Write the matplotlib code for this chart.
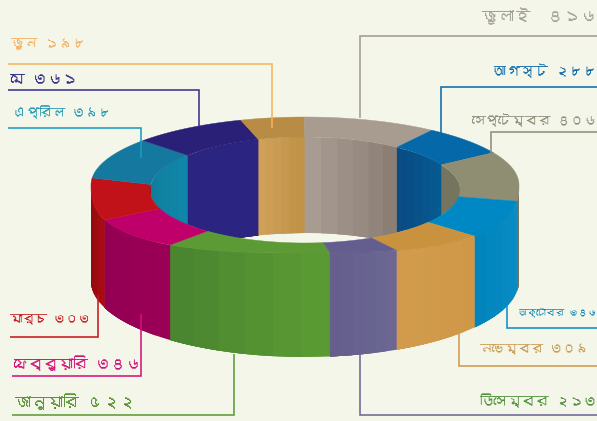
import numpy as np
import matplotlib
matplotlib.use("Agg")
import matplotlib.pyplot as plt
from matplotlib import font_manager as fm
from matplotlib.colors import to_rgb
from matplotlib.ft2font import FT2Font
from matplotlib.patches import Polygon, Ellipse

# ---- data ----
months = ["জানুয়ারি", "ফেব্রুয়ারি", "মার্চ", "এপ্রিল", "মে", "জুন", "জুলাই",
          "আগস্ট", "সেপ্টেম্বর", "অক্টোবর", "নভেম্বর", "ডিসেম্বর"]
values = [522, 346, 303, 398, 361, 198, 416, 288, 406, 346, 309, 213]

top_colors = ["#5C9A35", "#C0006A", "#C01218", "#15799F", "#2A2078", "#B98C45",
              "#A89B90", "#0568A8", "#8F8E72", "#0088C4", "#C9923F", "#635D90"]
# wall shade at the start and at the end of each slice
wall_start = ["#5A9A33", "#9A0056", "#A80C12", "#0F7D9C", "#2B2480", "#D0A058",
              "#A89C92", "#0A4C84", "#75745E", "#0A8CC4", "#CF9848", "#6B6792"]
wall_end = ["#47812E", "#920052", "#7E0A0E", "#1088AA", "#2B2480", "#BD9045",
            "#85796F", "#045E94", "#75745E", "#0084BC", "#D19C4C", "#625D8C"]
text_colors = ["#5E9438", "#D1107A", "#C4161C", "#2299B5", "#2E2A85", "#F2B264",
               "#A8A296", "#0A68A8", "#8E8D7A", "#0A86B8", "#C99A50", "#4F8F3B"]
line_colors = ["#5D9A38", "#D5107A", "#C8161C", "#1A9CC0", "#3A2F8F", "#F5B55F",
               "#A49C90", "#0A6BAE", "#8F8E78", "#0A8FC4", "#D09A4F", "#6B6695"]

# leader paths: (text-side x, y, elbow x, chart-side y)
leaders = [(12, 415, 234, 354), (12, 376, 141, 314), (10, 337, 98, 295),
           (8, 127.5, 141, 158), (8, 89.5, 199, 127), (8, 63.5, 272, 128),
           (597, 35.5, 360, 118), (597, 87, 441, 135), (597, 132, 491, 155),
           (597, 328, 507, 305), (597, 365.5, 459, 333), (597, 415, 360, 355)]
# label anchor: (x, y-centre, ha, width in pixels)
label_pos = [(15, 402, "left", 120), (13, 363, "left", 127), (10, 320, "left", 80),
             (13, 112, "left", 98), (10, 79, "left", 67), (10, 44, "left", 76),
             (597, 16, "right", 115), (597, 71, "right", 105), (597, 120, "right", 124),
             (597, 312, "right", 79), (588, 349, "right", 109), (597, 401, "right", 117)]


# ---- fonts: use a Bengali-capable family if one is installed ----
def bengali_family():
    for f in fm.fontManager.ttflist:
        try:
            if 0x0995 in FT2Font(f.fname).get_charmap():
                return f.name
        except Exception:
            pass
    return None


fam = bengali_family()
plt.rcParams["font.family"] = ([fam] if fam else []) + ["Noto Sans", "DejaVu Sans"]

BG = "#F3F6E8"
W, H = 597, 421
fig = plt.figure(figsize=(W / 100, H / 100), dpi=100, facecolor=BG)
ax = fig.add_axes([0, 0, 1, 1])
ax.set_xlim(0, W)
ax.set_ylim(H, 0)
ax.axis("off")

# ---- ring geometry ----
CX = 305
RX_OUT, RX_IN = 214, 155
CY_TOP, RY_TOP = 185, 68
CY_BOT, RY_BOT = 281, 76
CY_IN, RY_IN = 190, 53
CY_IN_BOT = 286


def outer_top(t):
    """Outer rim of the top face; the front half is squarer than an ellipse."""
    c, s = np.cos(t), np.sin(t)
    y = np.where(s >= 0,
                 CY_TOP + RY_TOP * np.clip(1 - np.abs(c) ** 2.7, 0, 1) ** (1 / 2.7),
                 CY_TOP + RY_TOP * s)
    return CX + RX_OUT * c, y


def outer_bot(t):
    return CX + RX_OUT * np.cos(t), CY_BOT + RY_BOT * np.sin(t)


def inner_top(t):
    return CX + RX_IN * np.cos(t), CY_IN + RY_IN * np.sin(t)


def inner_bot(t):
    return CX + RX_IN * np.cos(t), CY_IN_BOT + RY_IN * np.sin(t)


def band(f_a, f_b, t0, t1, color, z, clip=None):
    t = np.linspace(t0, t1, 50)
    xa, ya = f_a(t)
    xb, yb = f_b(t[::-1])
    p = Polygon(np.c_[np.r_[xa, xb], np.r_[ya, yb]], closed=True, fc=color,
                ec="none", zorder=z)
    ax.add_patch(p)
    if clip is not None:
        p.set_clip_path(clip)


def mix(a, b, f):
    a, b = np.array(to_rgb(a)), np.array(to_rgb(b))
    return a + (b - a) * f


total = sum(values)
start = np.deg2rad(83.3)
edges = start + np.r_[0, np.cumsum([v / total * 2 * np.pi for v in values])]

hole = Ellipse((CX, CY_IN), 2 * RX_IN, 2 * RY_IN, transform=ax.transData)
near = [(start, np.pi), (2 * np.pi, start + 2 * np.pi)]
far = [(np.pi, 2 * np.pi)]
STRIPS = 6


def walls(i, ranges, fa, fb, z, clip=None):
    t0, t1 = edges[i], edges[i + 1]
    for lo, hi in ranges:
        a, b = max(t0, lo), min(t1, hi)
        if b <= a:
            continue
        # each stripe runs to the slice end, so the next one paints over it without seams
        for s in np.linspace(a, b, STRIPS, endpoint=False):
            f = ((s - t0) / (t1 - t0))
            band(fa, fb, s, b, mix(wall_start[i], wall_end[i], f), z, clip)


for i in range(len(values)):
    walls(i, far, inner_top, inner_bot, 2 + i * 0.01, hole)
    walls(i, near, outer_top, outer_bot, 4 + i * 0.01)
    t = np.linspace(edges[i], edges[i + 1], 60)
    xo, yo = outer_top(t)
    xi, yi = inner_top(t[::-1])
    ax.add_patch(Polygon(np.c_[np.r_[xo, xi], np.r_[yo, yi]], closed=True,
                         fc=top_colors[i], ec=top_colors[i], lw=0.3, zorder=5))

# ---- leaders and labels ----
to_bn = str.maketrans("0123456789", "০১২৩৪৫৬৭৮৯")
renderer = fig.canvas.get_renderer()
for i, (m, v) in enumerate(zip(months, values)):
    x0, y0, xe, y1 = leaders[i]
    ax.plot([x0, xe, xe], [y0, y0, y1], color=line_colors[i], lw=1.2,
            solid_joinstyle="miter", solid_capstyle="butt", zorder=8, alpha=0.95)
    lx, ly, ha, width = label_pos[i]
    gap = "  " if i == 6 else " "
    txt = ax.text(lx, ly, m + gap + str(v).translate(to_bn), color=text_colors[i],
                  fontsize=12, ha=ha, va="center", zorder=9)
    measured = txt.get_window_extent(renderer).width
    txt.set_fontsize(12 * width / measured)

fig.savefig("out.png", dpi=100, facecolor=BG)
